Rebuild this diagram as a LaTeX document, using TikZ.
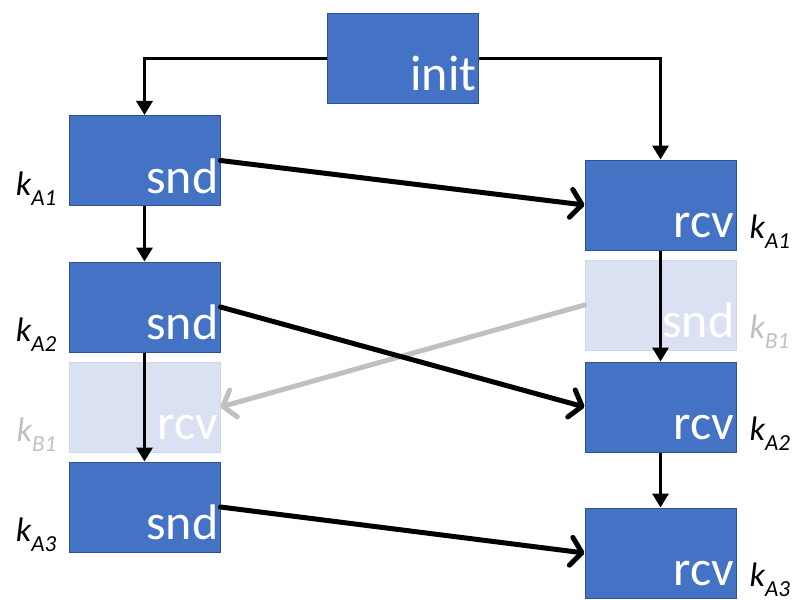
\documentclass[tikz,border=0pt]{standalone}
\usepackage{fontspec}
\setmainfont{Carlito}
\usetikzlibrary{arrows.meta}
\definecolor{boxblue}{HTML}{4472C4}
\definecolor{boxedge}{HTML}{2F528F}
\definecolor{fadefill}{HTML}{D9E1F2}
\definecolor{fadeedge}{HTML}{D0D8E8}
\definecolor{fadetext}{HTML}{C0C0C0}
\newcommand\keylabel[1]{\fontsize{34}{34}\selectfont\itshape k\raisebox{-10pt}{\fontsize{23}{23}\selectfont #1}}
\tikzset{
  blk/.style={draw=boxedge, fill=boxblue, line width=1pt, minimum width=151pt, minimum height=90pt, inner sep=0pt},
  fadeblk/.style={draw=fadeedge, fill=fadefill, line width=1pt, minimum width=151pt, minimum height=90pt, inner sep=0pt},
  blktext/.style={text=white, font=\fontsize{50}{50}\selectfont, anchor=base east, inner sep=0pt, xshift=-2pt, yshift=13pt},
  leftkey/.style={anchor=base east, inner sep=0pt, xshift=-12pt, yshift=11pt},
  rightkey/.style={anchor=base west, inner sep=0pt, xshift=13pt, yshift=12pt},
  flow/.style={draw=black, line width=3.2pt, -{Triangle[length=14pt,width=16pt]}},
  msg/.style={draw=black, line width=5pt, line cap=round, -{Straight Barb[length=11pt,width=28pt,line cap=round,line join=round]}},
  fademsg/.style={draw=fadetext, line width=5pt, line cap=round, -{Straight Barb[length=11pt,width=28pt,line cap=round,line join=round]}},
}
\begin{document}
\begin{tikzpicture}[x=1pt,y=-1pt]
\useasboundingbox (0,0) rectangle (794,599);

% left column
\node[blk] (snd1) at (144.5,160.5) {};
\node[blk] (snd2) at (144.5,307) {};
\node[fadeblk] (frcv) at (144.5,407) {};
\node[blk] (snd3) at (144.5,507) {};

% right column
\node[blk] (init) at (402.5,58.5) {};
\node[blk] (rcv1) at (660.5,205) {};
\node[fadeblk] (fsnd) at (660.5,305) {};
\node[blk] (rcv2) at (660.5,407) {};
\node[blk] (rcv3) at (660.5,553) {};

% box texts
\node[blktext] (tinit) at (init.south east) {init};
\node[blktext] (tsnd1) at (snd1.south east) {snd};
\node[blktext] (tsnd2) at (snd2.south east) {snd};
\node[blktext] (tfrcv) at (frcv.south east) {rcv};
\node[blktext] (tsnd3) at (snd3.south east) {snd};
\node[blktext] (trcv1) at (rcv1.south east) {rcv};
\node[blktext] (tfsnd) at (fsnd.south east) {snd};
\node[blktext] (trcv2) at (rcv2.south east) {rcv};
\node[blktext] (trcv3) at (rcv3.south east) {rcv};

% key labels
\node[leftkey] (ksnd1) at (snd1.south west) {\keylabel{A1}};
\node[leftkey] (ksnd2) at (snd2.south west) {\keylabel{A2}};
\node[leftkey, text=fadetext] (kfrcv) at (frcv.south west) {\keylabel{B1}};
\node[leftkey] (ksnd3) at (snd3.south west) {\keylabel{A3}};
\node[rightkey] (krcv1) at (rcv1.south east) {\keylabel{A1}};
\node[rightkey, text=fadetext] (kfsnd) at (fsnd.south east) {\keylabel{B1}};
\node[rightkey] (krcv2) at (rcv2.south east) {\keylabel{A2}};
\node[rightkey] (krcv3) at (rcv3.south east) {\keylabel{A3}};

% faded message
\draw[fademsg] (fsnd.west) -- (frcv.east);

% control flow
\draw[flow] (init.west) -| (snd1.north);
\draw[flow] (init.east) -| (rcv1.north);
\draw[flow] (snd1.south) -- (snd2.north);
\draw[flow] (snd2.south) -- (snd3.north);
\draw[flow] (rcv1.south) -- (rcv2.north);
\draw[flow] (rcv2.south) -- (rcv3.north);

% messages
\draw[msg] (snd1.east) -- (rcv1.west);
\draw[msg] (snd2.east) -- (rcv2.west);
\draw[msg] (snd3.east) -- (rcv3.west);
\end{tikzpicture}
\end{document}
